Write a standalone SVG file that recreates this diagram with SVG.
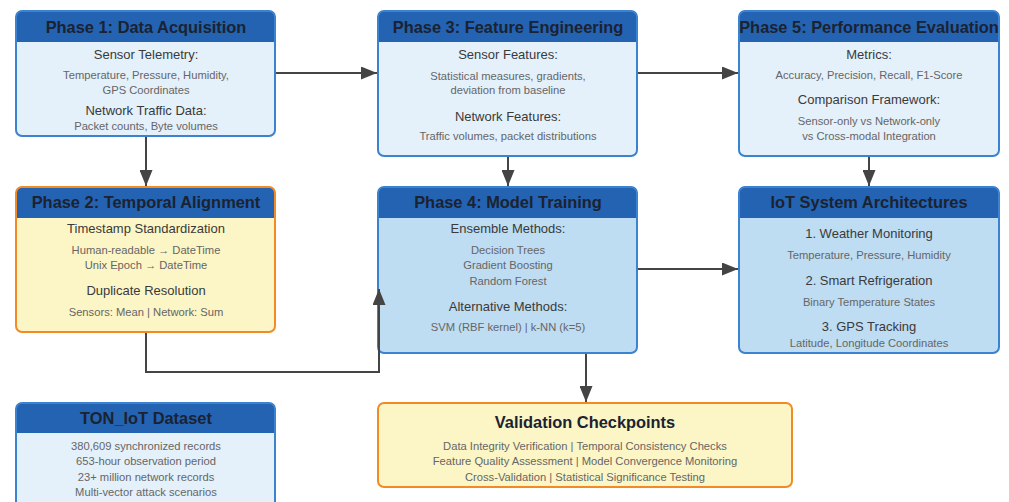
<svg xmlns="http://www.w3.org/2000/svg" width="1009" height="502" viewBox="0 0 1009 502">
<style>
.box{stroke-width:2}
.blue{stroke:#3b82d0}
.orange{stroke:#f28a26}
.light{fill:#e4f0fa}
.mid{fill:#bedcf2}
.yellow{fill:#fcf5c5}
.hdr{fill:#2462b2}
.title{font-family:"Liberation Sans",Arial,sans-serif;font-weight:bold;font-size:16.4px;fill:#1b2230;text-anchor:middle}
.sub{font-family:"Liberation Sans",Arial,sans-serif;font-size:13px;fill:#3a3a3a;text-anchor:middle}
.det{font-family:"Liberation Sans",Arial,sans-serif;font-size:11.2px;fill:#666;text-anchor:middle}
.conn{fill:none;stroke:#444;stroke-width:2}
</style>
<defs>
<marker id="arr" markerUnits="userSpaceOnUse" markerWidth="17" markerHeight="13" refX="16" refY="6.5" orient="auto">
<path d="M0,0 L16,6.5 L0,13 Z" fill="#444"/>
</marker>
</defs>
<rect width="1009" height="502" fill="#ffffff"/>

<g id="phase1">
<rect class="light" x="16" y="11" width="259" height="125" rx="6"/>
<path class="hdr" d="M16,42 L16,17 Q16,11 22,11 L269,11 Q275,11 275,17 L275,42 Z"/>
<rect class="box blue" fill="none" x="16" y="11" width="259" height="125" rx="6"/>
<text class="title" x="146" y="33">Phase 1: Data Acquisition</text>
<text class="sub" x="146" y="59">Sensor Telemetry:</text>
<text class="det" x="146" y="79">Temperature, Pressure, Humidity,</text>
<text class="det" x="146" y="94">GPS Coordinates</text>
<text class="sub" x="146" y="115">Network Traffic Data:</text>
<text class="det" x="146" y="130">Packet counts, Byte volumes</text>
</g>

<g id="phase3">
<rect class="light" x="378" y="11" width="259" height="145" rx="6"/>
<path class="hdr" d="M378,42 L378,17 Q378,11 384,11 L631,11 Q637,11 637,17 L637,42 Z"/>
<rect class="box blue" fill="none" x="378" y="11" width="259" height="145" rx="6"/>
<text class="title" x="508" y="33">Phase 3: Feature Engineering</text>
<text class="sub" x="508" y="59">Sensor Features:</text>
<text class="det" x="508" y="80">Statistical measures, gradients,</text>
<text class="det" x="508" y="94">deviation from baseline</text>
<text class="sub" x="508" y="121">Network Features:</text>
<text class="det" x="508" y="140">Traffic volumes, packet distributions</text>
</g>

<g id="phase5">
<rect class="light" x="739" y="11" width="260" height="145" rx="6"/>
<path class="hdr" d="M739,42 L739,17 Q739,11 745,11 L993,11 Q999,11 999,17 L999,42 Z"/>
<rect class="box blue" fill="none" x="739" y="11" width="260" height="145" rx="6"/>
<text class="title" x="869" y="33">Phase 5: Performance Evaluation</text>
<text class="sub" x="869" y="59">Metrics:</text>
<text class="det" x="869" y="79">Accuracy, Precision, Recall, F1-Score</text>
<text class="sub" x="869" y="104">Comparison Framework:</text>
<text class="det" x="869" y="125">Sensor-only vs Network-only</text>
<text class="det" x="869" y="140">vs Cross-modal Integration</text>
</g>

<g id="phase2">
<rect class="yellow" x="16" y="187" width="259" height="145" rx="6"/>
<path class="hdr" d="M16,218 L16,193 Q16,187 22,187 L269,187 Q275,187 275,193 L275,218 Z"/>
<rect class="box orange" fill="none" x="16" y="187" width="259" height="145" rx="6"/>
<text class="title" x="146" y="208">Phase 2: Temporal Alignment</text>
<text class="sub" x="146" y="233">Timestamp Standardization</text>
<text class="det" x="146" y="254">Human-readable → DateTime</text>
<text class="det" x="146" y="269">Unix Epoch → DateTime</text>
<text class="sub" x="146" y="295">Duplicate Resolution</text>
<text class="det" x="146" y="316">Sensors: Mean | Network: Sum</text>
</g>

<g id="phase4">
<rect class="mid" x="378" y="187" width="259" height="166" rx="6"/>
<path class="hdr" d="M378,218 L378,193 Q378,187 384,187 L631,187 Q637,187 637,193 L637,218 Z"/>
<rect class="box blue" fill="none" x="378" y="187" width="259" height="166" rx="6"/>
<text class="title" x="508" y="208">Phase 4: Model Training</text>
<text class="sub" x="508" y="233">Ensemble Methods:</text>
<text class="det" x="508" y="254">Decision Trees</text>
<text class="det" x="508" y="269">Gradient Boosting</text>
<text class="det" x="508" y="285">Random Forest</text>
<text class="sub" x="508" y="311">Alternative Methods:</text>
<text class="det" x="508" y="331">SVM (RBF kernel) | k-NN (k=5)</text>
</g>

<g id="iot">
<rect class="mid" x="739" y="187" width="260" height="166" rx="6"/>
<path class="hdr" d="M739,218 L739,193 Q739,187 745,187 L993,187 Q999,187 999,193 L999,218 Z"/>
<rect class="box blue" fill="none" x="739" y="187" width="260" height="166" rx="6"/>
<text class="title" x="869" y="208">IoT System Architectures</text>
<text class="sub" x="869" y="238">1. Weather Monitoring</text>
<text class="det" x="869" y="259">Temperature, Pressure, Humidity</text>
<text class="sub" x="869" y="285">2. Smart Refrigeration</text>
<text class="det" x="869" y="306">Binary Temperature States</text>
<text class="sub" x="869" y="331">3. GPS Tracking</text>
<text class="det" x="869" y="347">Latitude, Longitude Coordinates</text>
</g>

<g id="ton">
<rect class="light" x="16" y="403" width="259" height="110" rx="6"/>
<path class="hdr" d="M16,433 L16,409 Q16,403 22,403 L269,403 Q275,403 275,409 L275,433 Z"/>
<rect class="box blue" fill="none" x="16" y="403" width="259" height="110" rx="6"/>
<text class="title" x="146" y="424">TON_IoT Dataset</text>
<text class="det" x="146" y="450">380,609 synchronized records</text>
<text class="det" x="146" y="465">653-hour observation period</text>
<text class="det" x="146" y="481">23+ million network records</text>
<text class="det" x="146" y="496">Multi-vector attack scenarios</text>
</g>

<g id="validation">
<rect class="yellow box orange" x="378" y="403" width="414" height="84" rx="6"/>
<text class="title" x="585" y="428">Validation Checkpoints</text>
<text class="det" x="585" y="450">Data Integrity Verification | Temporal Consistency Checks</text>
<text class="det" x="585" y="465">Feature Quality Assessment | Model Convergence Monitoring</text>
<text class="det" x="585" y="481">Cross-Validation | Statistical Significance Testing</text>
</g>

<g id="connectors">
<path class="conn" d="M276,73 L377,73" marker-end="url(#arr)"/>
<path class="conn" d="M638,73 L738,73" marker-end="url(#arr)"/>
<path class="conn" d="M146,137 L146,186" marker-end="url(#arr)"/>
<path class="conn" d="M508,157 L508,186" marker-end="url(#arr)"/>
<path class="conn" d="M869,157 L869,186" marker-end="url(#arr)"/>
<path class="conn" d="M638,269 L738,269" marker-end="url(#arr)"/>
<path class="conn" d="M146,333 L146,372 L379,372 L379,289" marker-end="url(#arr)"/>
<path class="conn" d="M586,354 L586,402" marker-end="url(#arr)"/>
</g>
</svg>
